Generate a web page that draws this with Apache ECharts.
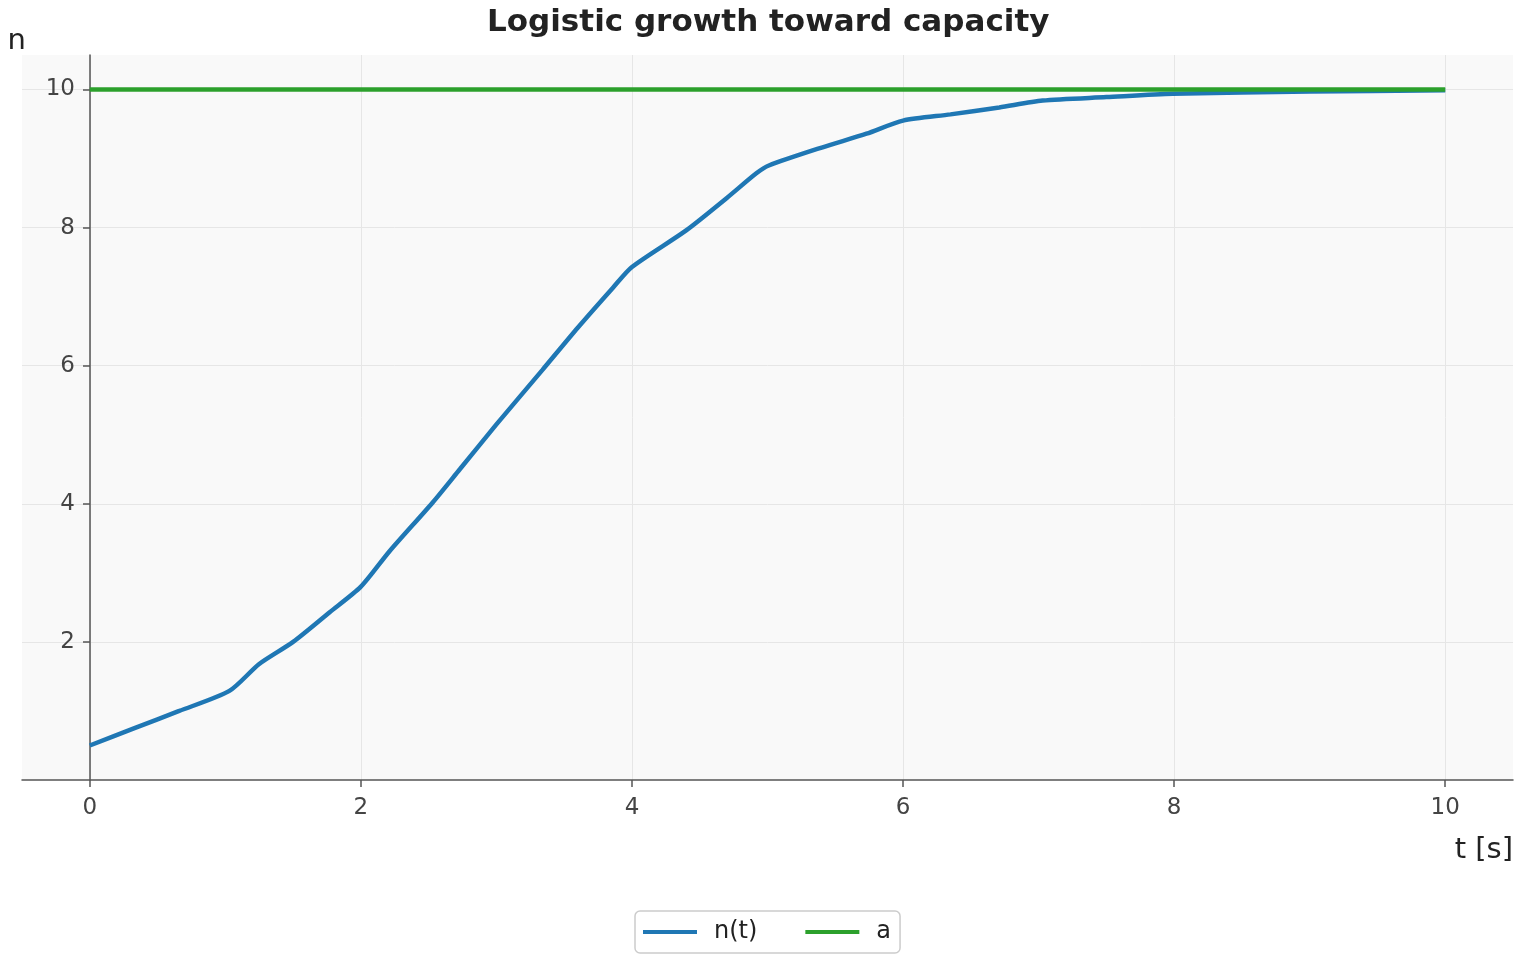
<!DOCTYPE html>
<html>
<head>
<meta charset="utf-8">
<script src="https://cdn.jsdelivr.net/npm/echarts@6/dist/echarts.min.js"></script>
<style>
  html, body { margin: 0; padding: 0; background: #fff; }
  #chart { width: 1520px; height: 960px; }
</style>
</head>
<body>
<div id="chart"></div>
<script>
// values
const tValues = [0, 0.33, 0.66, 1.03, 1.25, 1.5, 1.77, 2, 2.21, 2.53, 2.73, 3, 3.34, 3.6, 3.86, 4, 4.4, 4.7, 4.92, 5.01, 5.4, 5.73, 6, 6.35, 6.71, 7.03, 7.5, 7.99, 9, 10]
const nValues = [0.50, 0.75, 1.00, 1.29, 1.68, 2.00, 2.43, 2.80, 3.31, 4.02, 4.50, 5.15, 5.94, 6.55, 7.13, 7.43, 7.96, 8.43, 8.79, 8.90, 9.16, 9.36, 9.55, 9.64, 9.74, 9.84, 9.89, 9.94, 9.97, 9.99]
const capT = [0, 10]
const capValues = [10, 10]
const xTicks = [0, 2, 4, 6, 8, 10]
const yTicks = [2, 4, 6, 8, 10]

const font = 'DejaVu Sans'
const axisColor = '#555'

const chart = echarts.init(document.getElementById('chart'))
chart.setOption({
  animation: false,
  textStyle: { fontFamily: font },
  title: {
    text: 'Logistic growth toward capacity',
    left: 482,
    top: 2,
    textStyle: { fontSize: 31, fontWeight: 'bold', color: '#222', fontFamily: font }
  },
  grid: {
    left: 22,
    right: 7,
    top: 55,
    bottom: 180,
    outerBoundsMode: 'none',
    containLabel: false,
    show: true,
    backgroundColor: '#f9f9f9',
    borderWidth: 0
  },
  legend: {
    bottom: 7,
    left: 635,
    icon: 'rect',
    itemWidth: 54,
    itemHeight: 4,
    itemGap: 48,
    padding: [9, 9, 9, 8],
    borderColor: '#ccc',
    borderWidth: 1.5,
    borderRadius: 5,
    backgroundColor: '#fff',
    textStyle: { fontSize: 24, color: '#222', fontFamily: font, padding: [0, 0, 0, 12] },
    data: ['n(t)', 'a']
  },
  xAxis: {
    type: 'value',
    min: -0.5,
    max: 10.5,
    name: 't [s]',
    nameLocation: 'end',
    nameGap: 0,
    nameTextStyle: { fontSize: 29, color: '#222', align: 'right', verticalAlign: 'top', padding: [56, 0, 0, 0] },
    axisLine: { onZero: false, lineStyle: { color: axisColor, width: 1.5 } },
    axisTick: { show: true, customValues: xTicks, length: 7, lineStyle: { color: axisColor, width: 1.5 } },
    axisLabel: { customValues: xTicks, fontSize: 23, color: '#444', margin: 17 },
    splitLine: { show: true, lineStyle: { color: '#e6e6e6', width: 1 } }
  },
  yAxis: {
    type: 'value',
    min: 0,
    max: 10.5,
    // sits at t = 0, i.e. 68px inside the grid's left edge
    offset: -68,
    name: 'n',
    nameLocation: 'end',
    nameGap: -1,
    nameTextStyle: { fontSize: 29, color: '#222', align: 'right', padding: [0, 64, 0, 0] },
    axisLine: { onZero: false, lineStyle: { color: axisColor, width: 1.5 } },
    axisTick: { show: true, customValues: yTicks, length: 7, lineStyle: { color: axisColor, width: 1.5 } },
    axisLabel: { customValues: yTicks, fontSize: 23, color: '#444', margin: 15, padding: [5, 0, 0, 0] },
    splitLine: { show: true, lineStyle: { color: '#e6e6e6', width: 1 } }
  },
  series: [
    {
      name: 'n(t)',
      type: 'line',
      data: tValues.map((t, i) => [t, nValues[i]]),
      smooth: 0.25,
      showSymbol: false,
      symbol: 'none',
      lineStyle: { color: '#1f77b4', width: 4.5 },
      itemStyle: { color: '#1f77b4' }
    },
    {
      name: 'a',
      type: 'line',
      data: capT.map((t, i) => [t, capValues[i]]),
      showSymbol: false,
      symbol: 'none',
      lineStyle: { color: '#2ca02c', width: 4.5 },
      itemStyle: { color: '#2ca02c' }
    }
  ]
})
</script>
</body>
</html>
